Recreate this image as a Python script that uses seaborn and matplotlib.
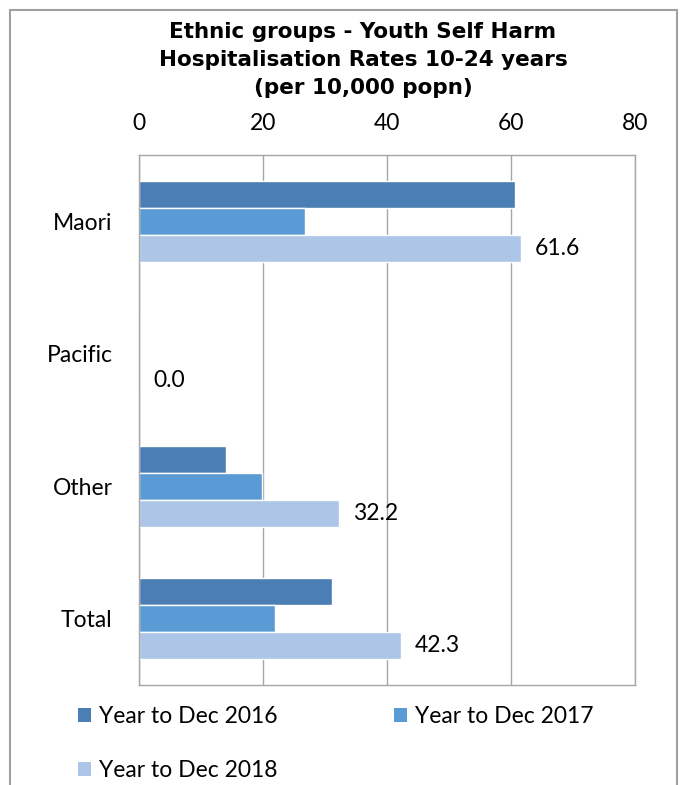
import matplotlib
matplotlib.use("Agg")
import matplotlib.pyplot as plt
from matplotlib.patches import Rectangle, Patch
import pandas as pd
import seaborn as sns

# Youth self harm hospitalisation rates (per 10,000 population), ages 10-24
groups = ["Maori", "Pacific", "Other", "Total"]
periods = ["Year to Dec 2016", "Year to Dec 2017", "Year to Dec 2018"]
rate_2016 = [60.6, 0.0, 14.1, 31.1]
rate_2017 = [26.7, 0.0, 19.9, 21.9]
rate_2018 = [61.6, 0.0, 32.2, 42.3]
x_ticks = [0, 20, 40, 60, 80]
colors = ["#4A7EB5", "#5B9BD5", "#ADC5E7"]

rows = []
for period, values in zip(periods, [rate_2016, rate_2017, rate_2018]):
    for g, v in zip(groups, values):
        rows.append({"group": g, "period": period, "rate": v})
df = pd.DataFrame(rows)

sns.set_theme(style="white")
plt.rcParams["font.family"] = ["Lato", "DejaVu Sans"]
plt.rcParams["text.color"] = "black"
FS = 16.5

fig = plt.figure(figsize=(6.8, 7.85), dpi=100)
ax = fig.add_axes([139 / 680, 1 - 685 / 785, 496 / 680, 530 / 785])

sns.barplot(data=df, y="group", x="rate", hue="period", order=groups,
            hue_order=periods, palette=colors, orient="h", width=0.61,
            saturation=1, legend=False, ax=ax)

ax.set_xlim(0, 80)
ax.set_xticks(x_ticks)
ax.set_xlabel("")
ax.set_ylabel("")
ax.tick_params(axis="x", labeltop=True, labelbottom=False, top=False,
               bottom=False, length=0, pad=15, labelsize=FS, colors="black")
ax.tick_params(axis="y", length=0, pad=19, labelsize=FS, colors="black")
ax.grid(axis="x", color="#A6A6A6", lw=1)
ax.set_axisbelow(True)
for sp in ax.spines.values():
    sp.set_color("#A6A6A6")
    sp.set_linewidth(1)

# Value labels on the latest period only
ax.bar_label(ax.containers[2], fmt="%.1f", padding=10, fontsize=FS,
             color="black")

fig.text(363 / 680, 1 - 60 / 785,
         "Ethnic groups - Youth Self Harm\nHospitalisation Rates 10-24 years\n(per 10,000 popn)",
         ha="center", va="center", fontsize=15.5, fontweight="bold",
         family=["DejaVu Sans"], linespacing=1.52, color="black")

# Legend laid out row by row: 2016, 2017 on the first row, 2018 below
handles = [Patch(facecolor=c, edgecolor="none") for c in colors]
order = [0, 2, 1]
fig.legend([handles[i] for i in order], [periods[i] for i in order],
           ncol=2, loc="upper left",
           bbox_to_anchor=(78 / 680, 1 - 706 / 785), frameon=False,
           fontsize=FS, handlelength=0.55, handleheight=0.55,
           handletextpad=0.35, columnspacing=5.1, labelspacing=1.45,
           borderpad=0, borderaxespad=0, labelcolor="black")

fig.patches.append(Rectangle((10 / 680, -0.1), 667 / 680, 1.1 - 10 / 785,
                             transform=fig.transFigure, fill=False,
                             edgecolor="#A0A0A0", lw=1.5, clip_on=False))

fig.savefig("out.png", dpi=100)
